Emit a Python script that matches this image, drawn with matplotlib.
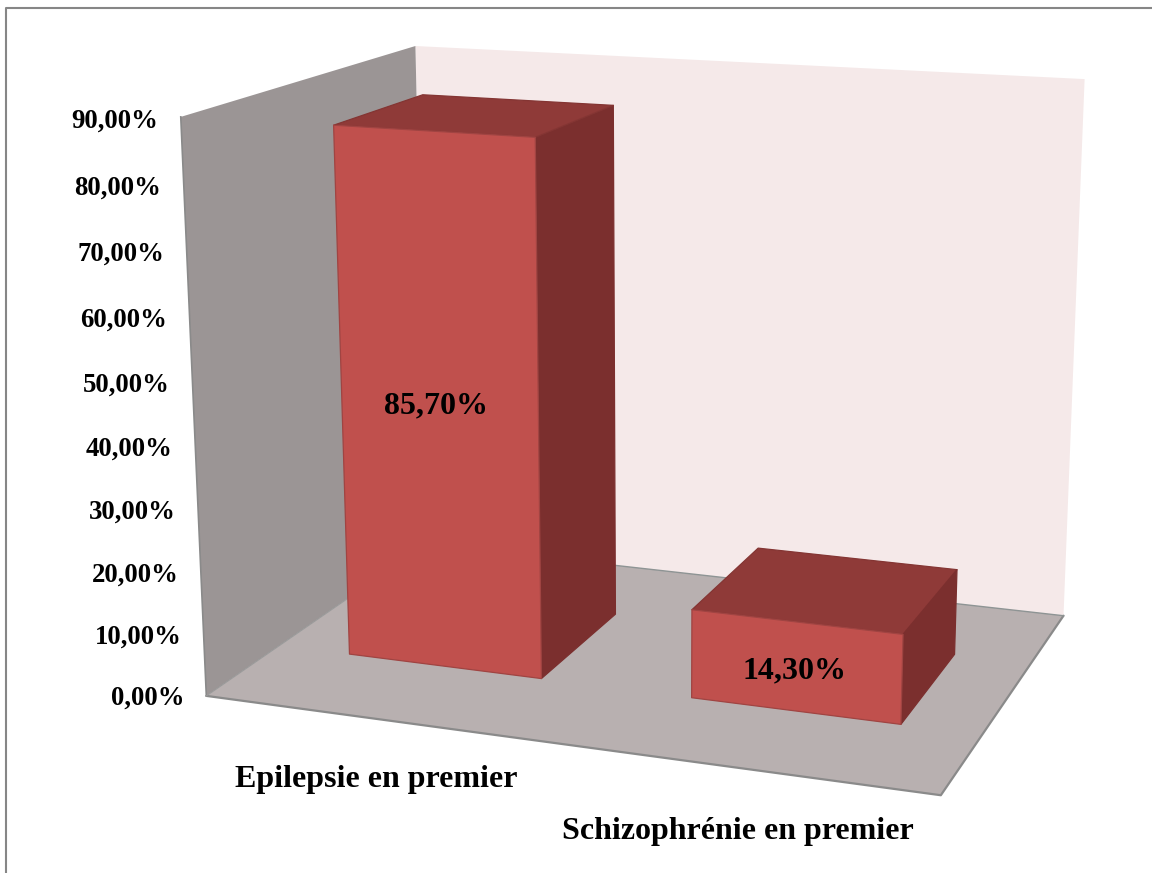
import numpy as np
import matplotlib
matplotlib.use('Agg')
import matplotlib.pyplot as plt
from matplotlib.lines import Line2D
from mpl_toolkits.mplot3d.art3d import Poly3DCollection

categories = ['Epilepsie en premier', 'Schizophrénie en premier']
values = [85.7, 14.3]
value_labels = ['85,70%', '14,30%']
ticks = [0, 10, 20, 30, 40, 50, 60, 70, 80, 90]
tick_labels = ['0,00%', '10,00%', '20,00%', '30,00%', '40,00%', '50,00%',
               '60,00%', '70,00%', '80,00%', '90,00%']

W, H = 1152, 873
ZMAX = ticks[-1]

# box corners (x, depth, value) and where the camera puts them, in pixels
box_corners = [(0, 0, 0), (1, 0, 0), (1, 1, 0), (0, 1, 0),
               (0, 0, ZMAX), (0, 1, ZMAX), (1, 1, ZMAX)]
box_pixels = [(205, 696), (941, 795), (1063, 616), (428, 544),
              (182, 117), (414, 46), (1085, 79)]

# label placement on the floor / front face
cat_x = [0.336, 0.803]
cat_depth = -0.264
value_x_shift = [-0.004, -0.001]
value_z_shift = [-0.15, -0.75]
tick_z_shift = -0.8


def fit_camera(world, pixels):
    # plain DLT, last element fixed to 1
    rows, rhs = [], []
    for (x, y, z), (u, v) in zip(world, pixels):
        v = H - v
        rows.append([x, y, z, 1, 0, 0, 0, 0, -u * x, -u * y, -u * z])
        rhs.append(u)
        rows.append([0, 0, 0, 0, x, y, z, 1, -v * x, -v * y, -v * z])
        rhs.append(v)
    p = np.linalg.lstsq(np.array(rows, float), np.array(rhs, float), rcond=None)[0]
    return np.append(p, 1.0).reshape(3, 4)


camera = fit_camera(box_corners, box_pixels)

plt.rcParams['font.family'] = ['Liberation Serif', 'DejaVu Serif']
plt.rcParams['font.weight'] = 'bold'

fig = plt.figure(figsize=(W / 100, H / 100), dpi=100, facecolor='white')
# 3d axes stay square, so let it overflow vertically
ax = fig.add_axes([0, -(W - H) / 2 / H, 1, W / H], projection='3d')
ax.set_axis_off()
ax.computed_zorder = False


def camera_proj():
    to_view = ax.transData.inverted().get_affine().get_matrix()
    top = to_view @ camera
    # third row only drives the painter's sort, farther = larger
    return np.array([top[0], top[1], [0, 0, 0, -1], top[2]])


ax.get_proj = camera_proj

left_wall = [(0, 0, 0), (0, 1, 0), (0, 1, ZMAX), (0, 0, ZMAX)]
back_wall = [(0, 1, 0), (1, 1, 0), (1, 1, ZMAX), (0, 1, ZMAX)]
floor = [(0, 0, 0), (1, 0, 0), (1, 1, 0), (0, 1, 0)]
for verts, col in [(back_wall, '#F5E9E9'), (left_wall, '#9B9595'), (floor, '#B8B0B0')]:
    ax.add_collection3d(Poly3DCollection([verts], facecolors=col, edgecolors='none', zorder=1))

# grey outline of the box
edge = dict(color='#8A8A8A', lw=1.6, zorder=2, solid_capstyle='round')
ax.plot([0, 1, 1], [0, 0, 1], [0, 0, 0], **edge)
ax.plot([1, 0], [1, 1], [0, 0], color='#8E9494', lw=1.0, zorder=2)
ax.plot([0, 0], [0, 0], [0, ZMAX], color='#8A8A8A', lw=1.2, zorder=2)
ax.plot([0, 0], [0, 1], [0, 0], color='#999999', lw=0.8, zorder=2)

# column size: gap width 75% along x, middle 40% of the depth
bar_width = 1 / 3.5
none = (0, 0, 0, 0)
face_cols = [none, '#8F3A38', '#C0504D', none, none, '#7B2F2E']
edge_cols = [none, '#843533', '#A04442', none, none, '#7B2F2E']
for i, val in enumerate(values):
    xc = (i + 0.5) / len(values)
    ax.bar3d(xc - bar_width / 2, 0.3, 0, bar_width, 0.4, val, color=face_cols,
             edgecolor=edge_cols, linewidth=0.9, shade=False, zorder=3 + i)
    ax.text(xc + value_x_shift[i], 0.3, val / 2 + value_z_shift[i], value_labels[i],
            ha='center', va='center', fontsize=23, zorder=10, color='black')
    ax.text(cat_x[i], cat_depth, 0, categories[i], ha='center', va='center',
            fontsize=23, zorder=10, color='black')

for t, lab in zip(ticks, tick_labels):
    ax.text(-0.033, 0, t + tick_z_shift, lab, ha='right', va='center',
            fontsize=19.3, zorder=10, color='black')

# chart area frame, only the left and top sides fall inside the image
to_fig = dict(transform=None, color='#868686', lw=1.5)
fig.add_artist(Line2D([5.5, 5.5, W], [0, H - 7.5, H - 7.5], **to_fig))

fig.savefig('out.png', dpi=100)
